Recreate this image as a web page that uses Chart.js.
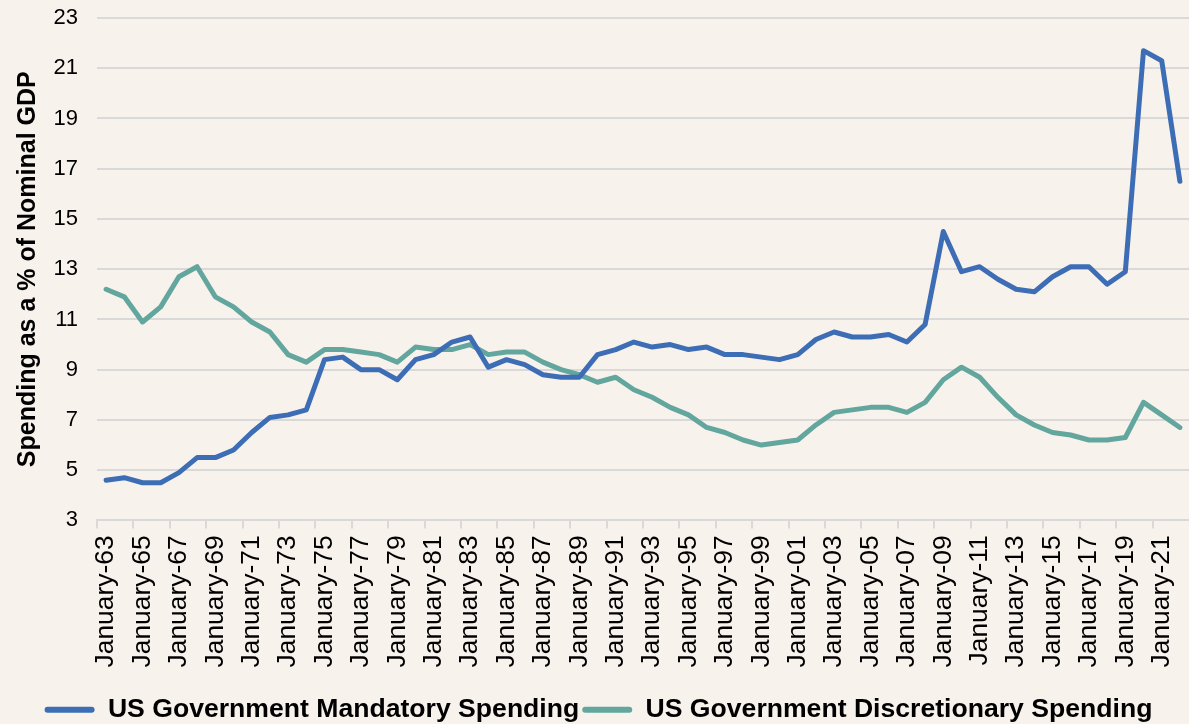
<!DOCTYPE html>
<html>
<head>
<meta charset="utf-8">
<script src="https://cdn.jsdelivr.net/npm/chart.js@4.4.1/dist/chart.umd.min.js"></script>
<style>
  html, body { margin: 0; padding: 0; background: #f8f2ed; }
  #wrap { width: 1189px; height: 724px; }
</style>
</head>
<body>
<div id="wrap"><canvas id="myChart" width="1189" height="724"></canvas></div>
<script>
var categories = [
    'January-63', 'January-64', 'January-65', 'January-66', 'January-67', 'January-68',
    'January-69', 'January-70', 'January-71', 'January-72', 'January-73', 'January-74',
    'January-75', 'January-76', 'January-77', 'January-78', 'January-79', 'January-80',
    'January-81', 'January-82', 'January-83', 'January-84', 'January-85', 'January-86',
    'January-87', 'January-88', 'January-89', 'January-90', 'January-91', 'January-92',
    'January-93', 'January-94', 'January-95', 'January-96', 'January-97', 'January-98',
    'January-99', 'January-00', 'January-01', 'January-02', 'January-03', 'January-04',
    'January-05', 'January-06', 'January-07', 'January-08', 'January-09', 'January-10',
    'January-11', 'January-12', 'January-13', 'January-14', 'January-15', 'January-16',
    'January-17', 'January-18', 'January-19', 'January-20', 'January-21', 'January-22'
];

var mandatory = [
    4.6, 4.7, 4.5, 4.5, 4.9, 5.5, 5.5, 5.8, 6.5, 7.1,
    7.2, 7.4, 9.4, 9.5, 9.0, 9.0, 8.6, 9.4, 9.6, 10.1,
    10.3, 9.1, 9.4, 9.2, 8.8, 8.7, 8.7, 9.6, 9.8, 10.1,
    9.9, 10.0, 9.8, 9.9, 9.6, 9.6, 9.5, 9.4, 9.6, 10.2,
    10.5, 10.3, 10.3, 10.4, 10.1, 10.8, 14.5, 12.9, 13.1, 12.6,
    12.2, 12.1, 12.7, 13.1, 13.1, 12.4, 12.9, 21.7, 21.3, 16.5
];

var discretionary = [
    12.2, 11.9, 10.9, 11.5, 12.7, 13.1, 11.9, 11.5, 10.9, 10.5,
    9.6, 9.3, 9.8, 9.8, 9.7, 9.6, 9.3, 9.9, 9.8, 9.8,
    10.0, 9.6, 9.7, 9.7, 9.3, 9.0, 8.8, 8.5, 8.7, 8.2,
    7.9, 7.5, 7.2, 6.7, 6.5, 6.2, 6.0, 6.1, 6.2, 6.8,
    7.3, 7.4, 7.5, 7.5, 7.3, 7.7, 8.6, 9.1, 8.7, 7.9,
    7.2, 6.8, 6.5, 6.4, 6.2, 6.2, 6.3, 7.7, 7.2, 6.7
];

var yTicks = [3, 5, 7, 9, 11, 13, 15, 17, 19, 21, 23];

var blue = '#3d6db5';
var teal = '#62a69e';
var gridGrey = '#d9d9d9';
var fontFamily = 'Liberation Sans, Arial, sans-serif';

var ctx = document.getElementById('myChart').getContext('2d');
var myChart = new Chart(ctx, {
    type: 'line',
    data: {
        labels: categories,
        datasets: [{
            label: 'US Government Mandatory Spending',
            data: mandatory,
            borderColor: blue,
            backgroundColor: blue,
            borderWidth: 5,
            pointRadius: 0,
            tension: 0,
            borderJoinStyle: 'round',
            borderCapStyle: 'round'
        }, {
            label: 'US Government Discretionary Spending',
            data: discretionary,
            borderColor: teal,
            backgroundColor: teal,
            borderWidth: 5,
            pointRadius: 0,
            tension: 0,
            borderJoinStyle: 'round',
            borderCapStyle: 'round'
        }]
    },
    options: {
        responsive: false,
        animation: false,
        layout: { padding: { top: 18, right: -8, bottom: -9, left: 0 } },
        plugins: {
            tooltip: { enabled: false },
            legend: {
                position: 'bottom',
                labels: {
                    color: '#000',
                    font: { family: fontFamily, size: 26.6, weight: 'bold' },
                    boxWidth: 50,
                    boxHeight: 6,
                    padding: 3,
                    useBorderRadius: true,
                    borderRadius: 3,
                    generateLabels: function (chart) {
                        return Chart.defaults.plugins.legend.labels.generateLabels(chart).map(function (l) {
                            l.lineWidth = 0;
                            l.fillStyle = l.strokeStyle;
                            return l;
                        });
                    }
                }
            }
        },
        scales: {
            x: {
                offset: true,
                afterFit: function (scale) {
                    scale.height = 173;
                    scale.paddingLeft = 0;
                    scale.paddingRight = 0;
                },
                grid: {
                    offset: true,
                    drawOnChartArea: false,
                    drawTicks: true,
                    tickLength: 8,
                    lineWidth: 2,
                    color: function (c) { return c.index % 2 === 0 ? gridGrey : 'rgba(0,0,0,0)'; }
                },
                border: { display: true, color: gridGrey, width: 2 },
                ticks: {
                    autoSkip: false,
                    minRotation: 90,
                    maxRotation: 90,
                    padding: 7,
                    color: '#000',
                    font: { family: fontFamily, size: 26.4 },
                    callback: function (v, i) {
                        return i % 2 === 0 ? categories[i] : '';
                    }
                }
            },
            y: {
                min: 3,
                max: 23,
                afterFit: function (scale) {
                    scale.width = 97;
                    scale.paddingTop = 0;
                    scale.paddingBottom = 0;
                },
                afterBuildTicks: function (axis) {
                    axis.ticks = yTicks.map(function (v) { return { value: v }; });
                },
                grid: { color: gridGrey, lineWidth: 2, drawTicks: false },
                border: { display: false },
                ticks: {
                    padding: 19,
                    color: '#000',
                    font: { family: fontFamily, size: 22 }
                },
                title: {
                    display: true,
                    text: 'Spending as a % of Nominal GDP',
                    color: '#000',
                    font: { family: fontFamily, size: 25, weight: 'bold' },
                    padding: { top: 13, bottom: 8 }
                }
            }
        }
    }
});
</script>
</body>
</html>
